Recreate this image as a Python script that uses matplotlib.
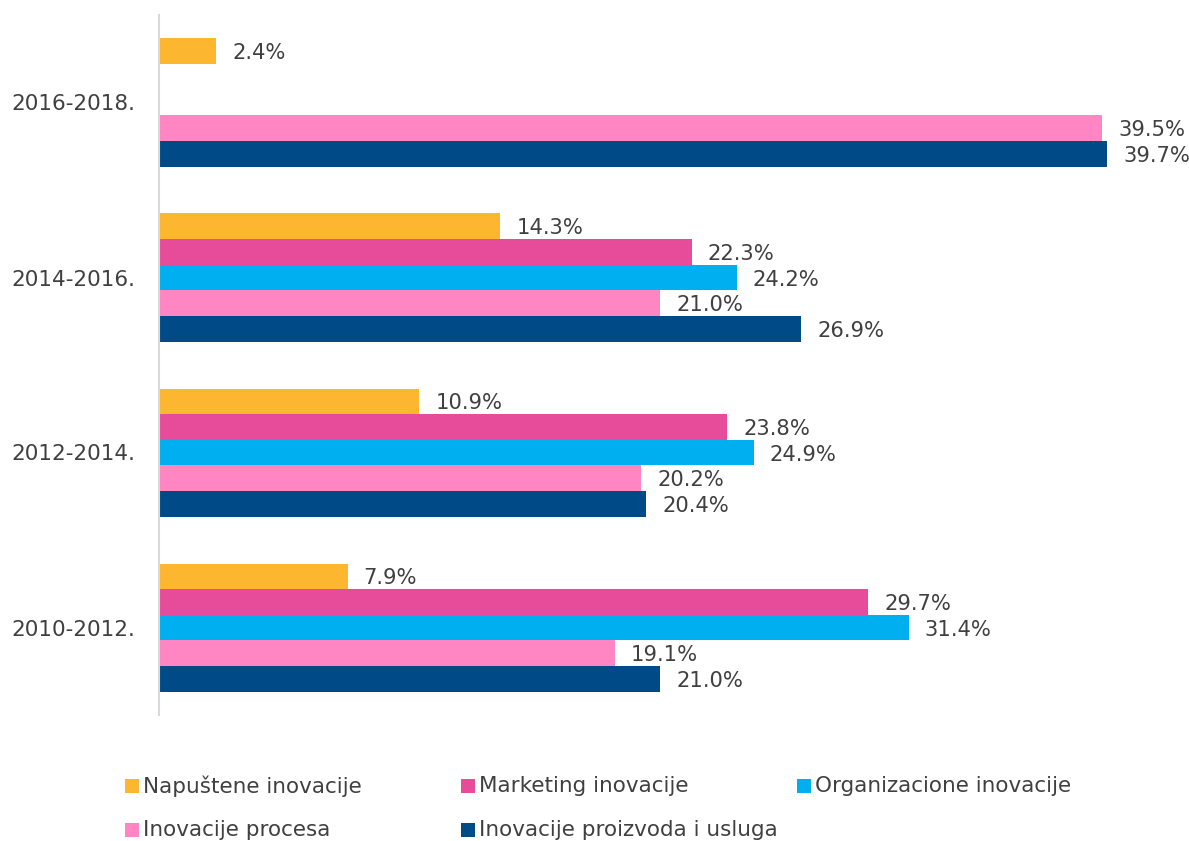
import matplotlib
matplotlib.use("Agg")
import matplotlib.pyplot as plt
from matplotlib.patches import Rectangle
import numpy as np

categories = ["2016-2018.", "2014-2016.", "2012-2014.", "2010-2012."]
series_names = ["Napuštene inovacije", "Marketing inovacije", "Organizacione inovacije",
                "Inovacije procesa", "Inovacije proizvoda i usluga"]
napustene = [2.4, 14.3, 10.9, 7.9]
marketing = [np.nan, 22.3, 23.8, 29.7]
organizacione = [np.nan, 24.2, 24.9, 31.4]
procesa = [39.5, 21.0, 20.2, 19.1]
proizvoda = [39.7, 26.9, 20.4, 21.0]
values = [napustene, marketing, organizacione, procesa, proizvoda]
colors = ["#FDB62F", "#E74C9A", "#00AFEF", "#FF86C2", "#004B87"]

W, H = 1189, 841
fig = plt.figure(figsize=(W / 100, H / 100), dpi=100)
ax = fig.add_axes([159 / W, 126 / H, 1030 / W, 700 / H])

px_per_unit = 23.88
ax.set_xlim(0, 1030 / px_per_unit)
ax.set_ylim(-0.5, 3.5)

n = len(categories)
ypos = np.arange(n)[::-1]  # top category highest
h = 25.6 / 175.0
txt_color = "#404040"
for i, (vals, col) in enumerate(zip(values, colors)):
    off = (2 - i) * h
    for y, v in zip(ypos, vals):
        if np.isnan(v):
            continue
        ax.barh(y + off, v, height=h, color=col, edgecolor="none")
        ax.annotate(f"{v:.1f}%", xy=(v, y + off), xytext=(11.5, -1.5),
                    textcoords="offset points", va="center", ha="left",
                    fontsize=15.2, color=txt_color)

ax.set_yticks(ypos)
ax.set_yticklabels(categories, fontsize=15.5, color=txt_color)
ax.tick_params(axis="y", length=0, pad=17)
ax.set_xticks([])
for s in ["top", "right", "bottom"]:
    ax.spines[s].set_visible(False)
ax.spines["left"].set_color("#d9d9d9")
ax.spines["left"].set_linewidth(1.5)

# legend (manual layout, 3 columns)
col_x = [125, 461, 797]
row_y = [786, 830]
for i, (name, col) in enumerate(zip(series_names, colors)):
    cx = col_x[i % 3]
    cy = row_y[i // 3]
    fig.add_artist(Rectangle((cx / W, (H - cy - 7) / H), 14 / W, 14 / H,
                             transform=fig.transFigure, facecolor=col, edgecolor="none"))
    fig.text((cx + 18) / W, (H - cy) / H, name, fontsize=15.5, color=txt_color,
             va="center", ha="left")

fig.savefig("out.png", dpi=100)
